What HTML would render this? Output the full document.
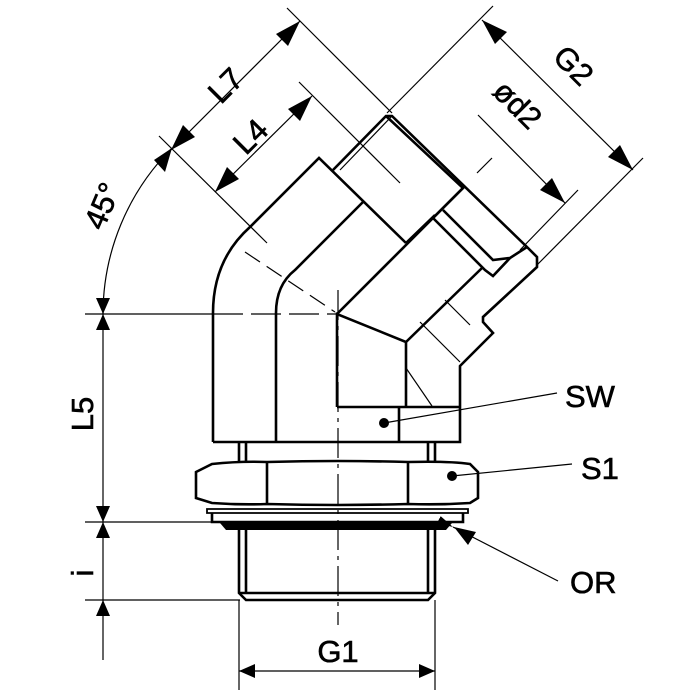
<!DOCTYPE html>
<html><head><meta charset="utf-8"><style>
html,body{margin:0;padding:0;background:#fff;}
svg{display:block;}
text{font-family:"Liberation Sans",sans-serif;font-size:31px;fill:#000;stroke:#000;stroke-width:0.6;}
</style></head><body>
<svg width="700" height="700" viewBox="0 0 700 700" xmlns="http://www.w3.org/2000/svg">
<defs>
<marker id="a" markerWidth="16" markerHeight="8" refX="16" refY="4" orient="auto" markerUnits="userSpaceOnUse">
<path d="M0,0 L16,4 L0,8 Z" fill="#000"/></marker>
</defs>
<g stroke="#000" fill="none" stroke-width="1.2">
<line x1="103" y1="300" x2="103" y2="660"/>
<line x1="85" y1="314" x2="213" y2="314"/>
<line x1="85" y1="522" x2="212" y2="522"/>
<line x1="85" y1="600" x2="240" y2="600"/>
<line x1="239" y1="600" x2="239" y2="690"/>
<line x1="435" y1="600" x2="435" y2="690"/>
<line x1="239" y1="671" x2="435" y2="671"/>
<path d="M103,314 A235,235 0 0 1 172,148"/>
<line x1="171" y1="150" x2="300" y2="21"/>
<line x1="159" y1="136" x2="267" y2="243"/>
<line x1="287" y1="8" x2="392" y2="113"/>
<line x1="215" y1="192" x2="312" y2="96"/>
<line x1="299" y1="82" x2="400" y2="183"/>
<line x1="482" y1="20" x2="633" y2="170"/>
<line x1="493" y1="6" x2="387" y2="113"/>
<line x1="643" y1="158" x2="537" y2="265"/>
<line x1="478" y1="115" x2="565" y2="203"/>
<line x1="578" y1="190" x2="520" y2="250"/>
<line x1="477" y1="173" x2="492" y2="158"/>
<path d="M338,290 V625" stroke-dasharray="30,6,4,6"/>
<path d="M213,314 H337" stroke-dasharray="30,8"/>
<path d="M245,252 L335,312" stroke-dasharray="18,8"/>
<line x1="406" y1="368" x2="432" y2="406"/>
<line x1="420" y1="322" x2="460" y2="362"/>
<line x1="445" y1="300" x2="470" y2="325"/>
<line x1="392" y1="116" x2="340" y2="170"/>
<line x1="384" y1="423" x2="557" y2="393"/>
<line x1="452" y1="476" x2="572" y2="464"/>
<line x1="453" y1="527" x2="558" y2="581" marker-start="url(#a)"/>
</g>
<g fill="#000">
<path d="M103,314 L96,330 L110,330Z"/>
<path d="M103,314 L96,298 L110,298Z"/>
<path d="M103,522 L96,506 L110,506Z"/>
<path d="M103,522 L96,538 L110,538Z"/>
<path d="M103,600 L96,616 L110,616Z"/>
<path d="M239,671 L255,664 L255,678Z"/>
<path d="M435,671 L419,664 L419,678Z"/>
<path d="M172,148 L154,160 L165,172Z"/>
<path d="M171,150 L195,137 L183,125Z"/>
<path d="M300,21 L276,34 L288,46Z"/>
<path d="M215,192 L239,179 L227,167Z"/>
<path d="M312,96 L288,109 L300,121Z"/>
<path d="M482,20 L495,44 L507,32Z"/>
<path d="M633,170 L608,157 L620,145Z"/>
<path d="M565,203 L540,190 L552,178Z"/>
<path d="M454,527 L476,532 L468,545Z"/>
<circle cx="384" cy="423" r="5"/>
<circle cx="452" cy="476" r="5"/>
<path d="M220,523 L452,523 L446,530 L226,530Z"/>
</g>
<g stroke="#000" fill="none" stroke-width="2.6" stroke-linejoin="miter">
<path d="M213,442 V313 Q213,260 250,227 L319,158 L406,243"/>
<path d="M276,442 V313 Q276,285 295,270 L363,202"/>
<path d="M213,442 H460 V366 L493,333 L483,322 L483,317 L537,267 L537,257 L527,247 L392,116 L386,116 L333,170"/>
<path d="M386,116 L463,188 L433,218"/>
<path d="M443,210 L493,260 L510,258 L527,247"/>
<path d="M433,218 L485,270 L493,276 L510,258"/>
<path d="M406,243 L435,215"/>
<path d="M337,407 V314 L406,342 V407"/>
<path d="M337,314 L463,188"/>
<path d="M406,342 L482,268"/>
<path d="M337,407 H460"/>
<path d="M399,407 V442"/>
<path d="M239,442 V461 M246,442 V461 M428,442 V461 M435,442 V461"/>
<path d="M196,472 L212,464 Q240,461 267,462 Q338,460 408,462 Q450,461 470,464 L478,472 V498 L470,503 Q440,505 408,504 Q338,506 267,504 Q240,505 212,503 L196,498 Z"/>
<path d="M267,462 V504 M408,462 V504"/>
<path d="M207,509 H468 V513 H207 Z" stroke-width="1.8"/>
<path d="M212,513 V522 H463 V513"/>
<path d="M239,530 V593 L246,600 H428 L435,593 V530"/>
<path d="M246,530 V593 M428,530 V593 M239,593 H435"/>
</g>
<text transform="translate(233,93) rotate(-45)" text-anchor="middle">L7</text>
<text transform="translate(258,144) rotate(-45)" text-anchor="middle">L4</text>
<text transform="translate(566,73) rotate(45)" text-anchor="middle">G2</text>
<text transform="translate(510,112) rotate(45)" text-anchor="middle">ød2</text>
<text transform="translate(112,210) rotate(-67)" text-anchor="middle">45°</text>
<text transform="translate(93,414) rotate(-90)" text-anchor="middle">L5</text>
<text transform="translate(93,573) rotate(-90)" text-anchor="middle">i</text>
<text x="338" y="662" text-anchor="middle">G1</text>
<text x="565" y="407">SW</text>
<text x="581" y="479">S1</text>
<text x="570" y="593">OR</text>
</svg>
</body></html>
